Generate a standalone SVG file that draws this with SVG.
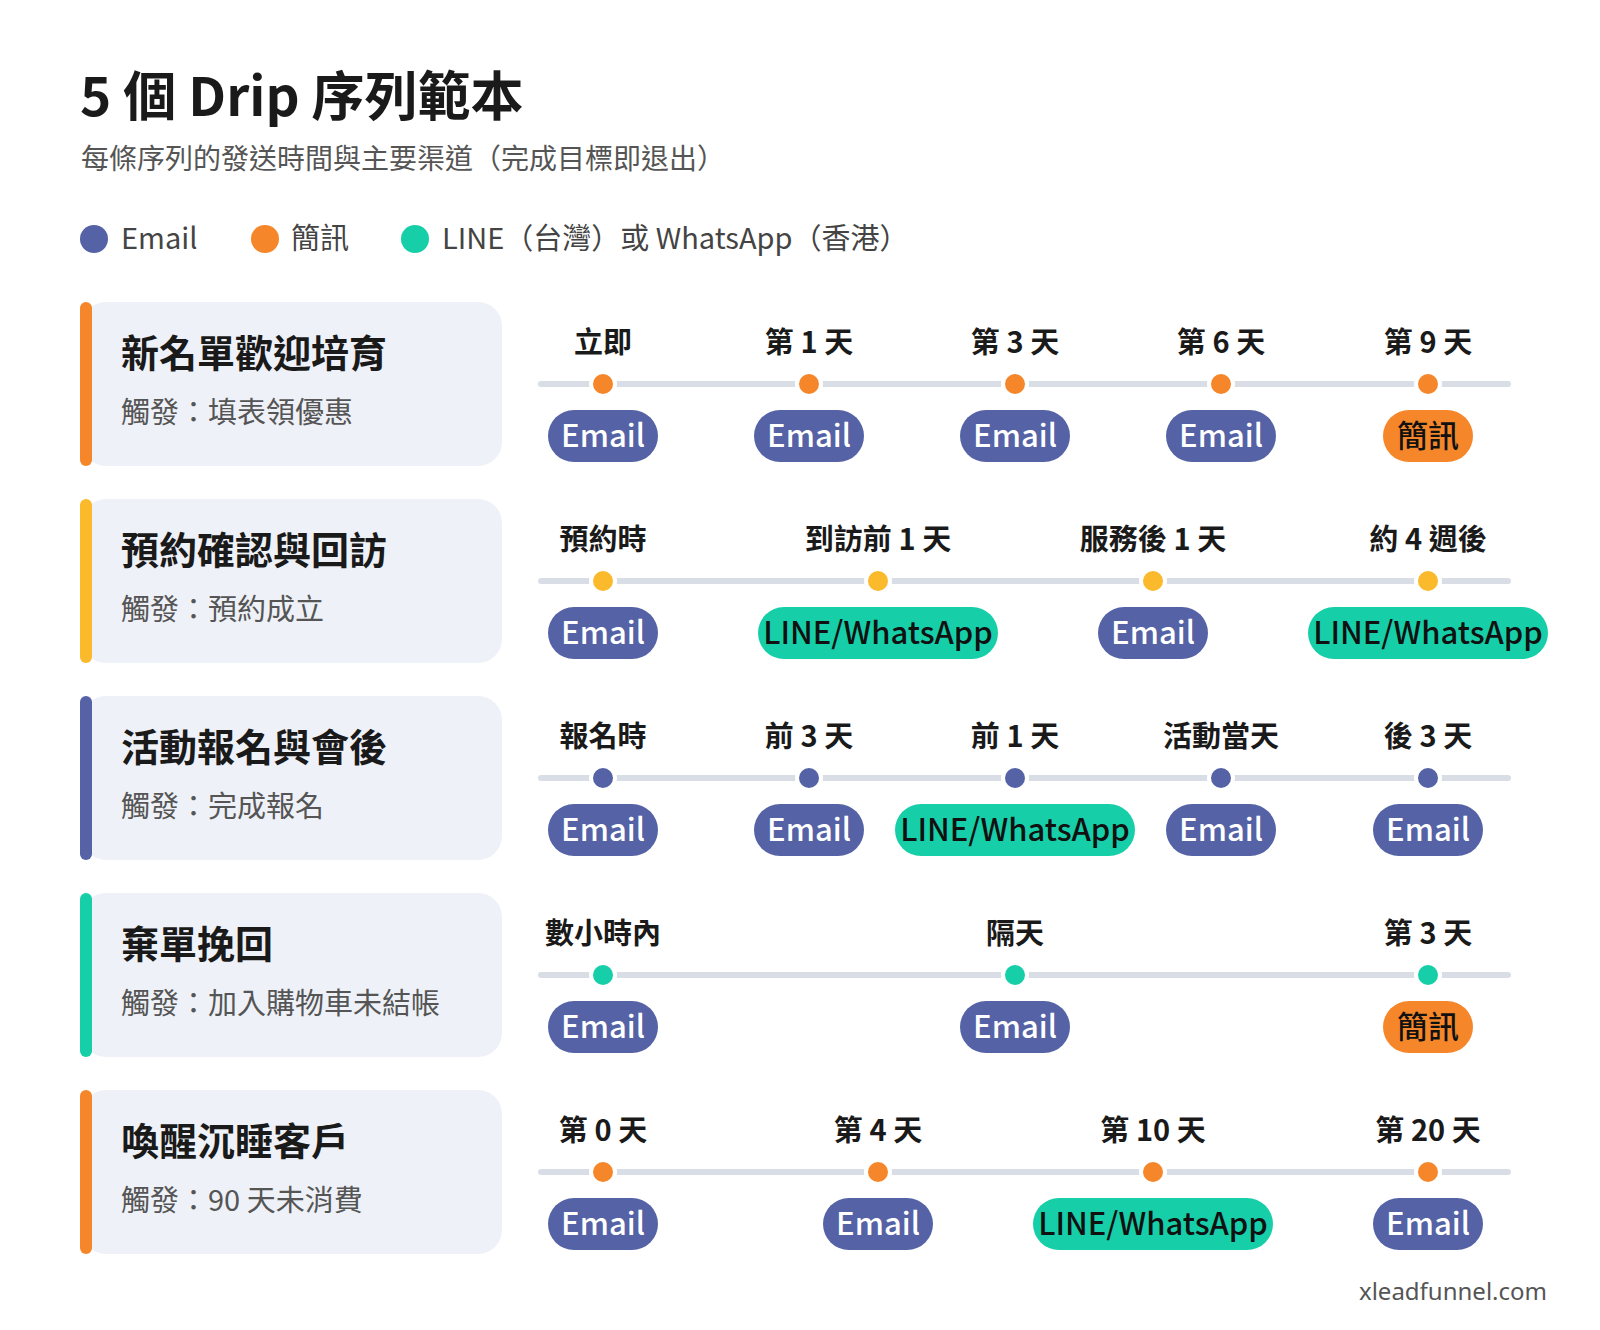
<svg xmlns="http://www.w3.org/2000/svg" width="1600" height="1330" viewBox="0 0 1600 1330">
<style>
text{font-family:"Noto Sans CJK TC","Noto Sans",sans-serif}
.t{font-size:53px;font-weight:700;fill:#1a1a1a}
.st{font-size:28px;fill:#555}
.lg{font-size:29px;fill:#444}
.card{fill:#eef1f7}
.ct{font-size:38px;font-weight:700;fill:#1a1a1a}
.cs{font-size:29px;fill:#555}
.lab{font-size:29px;font-weight:700;fill:#1a1a1a;text-anchor:middle}
.ln{stroke:#d9dde6;stroke-width:6;stroke-linecap:round}
.pt{font-size:31px;font-weight:500;text-anchor:middle}
.e{fill:#5563a6}.s{fill:#f5872a}.l{fill:#16cfa8}
.w{fill:#fff}.d{fill:#111}
</style>
<rect width="1600" height="1330" fill="#fff"/>
<text class="t" x="80" y="116">5 個 Drip 序列範本</text>
<text class="st" x="81" y="169">每條序列的發送時間與主要渠道（完成目標即退出）</text>
<g id="legend">
<circle cx="94" cy="239" r="14" class="e"/><text class="lg" x="121" y="249">Email</text>
<circle cx="265" cy="239" r="14" class="s"/><text class="lg" x="291" y="249">簡訊</text>
<circle cx="415" cy="239" r="14" class="l"/><text class="lg" x="442" y="249">LINE（台灣）或 WhatsApp（香港）</text>
</g>
<g id="connectors">
<line class="ln" x1="541" y1="384" x2="1508" y2="384"/>
<line class="ln" x1="541" y1="581" x2="1508" y2="581"/>
<line class="ln" x1="541" y1="778" x2="1508" y2="778"/>
<line class="ln" x1="541" y1="975" x2="1508" y2="975"/>
<line class="ln" x1="541" y1="1172" x2="1508" y2="1172"/>
</g>
<!-- Row 1 -->
<g id="row1">
<rect class="card" x="82" y="302" width="420" height="164" rx="24"/>
<rect x="80" y="302" width="12" height="164" rx="6" fill="#f5872a"/>
<text class="ct" x="121" y="367">新名單歡迎培育</text>
<text class="cs" x="121" y="423">觸發：填表領優惠</text>
<g fill="#f5872a" stroke="#fff" stroke-width="4">
<circle cx="603" cy="384" r="12"/><circle cx="809" cy="384" r="12"/><circle cx="1015" cy="384" r="12"/><circle cx="1221" cy="384" r="12"/><circle cx="1428" cy="384" r="12"/></g>
<text class="lab" x="603" y="353">立即</text><text class="lab" x="809" y="353">第 1 天</text><text class="lab" x="1015" y="353">第 3 天</text><text class="lab" x="1221" y="353">第 6 天</text><text class="lab" x="1428" y="353">第 9 天</text>
<rect class="e" x="548" y="410" width="110" height="52" rx="26"/><text class="pt w" x="603" y="447">Email</text>
<rect class="e" x="754" y="410" width="110" height="52" rx="26"/><text class="pt w" x="809" y="447">Email</text>
<rect class="e" x="960" y="410" width="110" height="52" rx="26"/><text class="pt w" x="1015" y="447">Email</text>
<rect class="e" x="1166" y="410" width="110" height="52" rx="26"/><text class="pt w" x="1221" y="447">Email</text>
<rect class="s" x="1383" y="410" width="90" height="52" rx="26"/><text class="pt d" x="1428" y="447">簡訊</text>
</g>
<!-- Row 2 -->
<g id="row2">
<rect class="card" x="82" y="499" width="420" height="164" rx="24"/>
<rect x="80" y="499" width="12" height="164" rx="6" fill="#fbb92c"/>
<text class="ct" x="121" y="564">預約確認與回訪</text>
<text class="cs" x="121" y="620">觸發：預約成立</text>
<g fill="#fbb92c" stroke="#fff" stroke-width="4">
<circle cx="603" cy="581" r="12"/><circle cx="878" cy="581" r="12"/><circle cx="1153" cy="581" r="12"/><circle cx="1428" cy="581" r="12"/></g>
<text class="lab" x="603" y="550">預約時</text><text class="lab" x="878" y="550">到訪前 1 天</text><text class="lab" x="1153" y="550">服務後 1 天</text><text class="lab" x="1428" y="550">約 4 週後</text>
<rect class="e" x="548" y="607" width="110" height="52" rx="26"/><text class="pt w" x="603" y="644">Email</text>
<rect class="l" x="758" y="607" width="240" height="52" rx="26"/><text class="pt d" x="878" y="644">LINE/WhatsApp</text>
<rect class="e" x="1098" y="607" width="110" height="52" rx="26"/><text class="pt w" x="1153" y="644">Email</text>
<rect class="l" x="1308" y="607" width="240" height="52" rx="26"/><text class="pt d" x="1428" y="644">LINE/WhatsApp</text>
</g>
<!-- Row 3 -->
<g id="row3">
<rect class="card" x="82" y="696" width="420" height="164" rx="24"/>
<rect x="80" y="696" width="12" height="164" rx="6" fill="#5563a6"/>
<text class="ct" x="121" y="761">活動報名與會後</text>
<text class="cs" x="121" y="817">觸發：完成報名</text>
<g fill="#5563a6" stroke="#fff" stroke-width="4">
<circle cx="603" cy="778" r="12"/><circle cx="809" cy="778" r="12"/><circle cx="1015" cy="778" r="12"/><circle cx="1221" cy="778" r="12"/><circle cx="1428" cy="778" r="12"/></g>
<text class="lab" x="603" y="747">報名時</text><text class="lab" x="809" y="747">前 3 天</text><text class="lab" x="1015" y="747">前 1 天</text><text class="lab" x="1221" y="747">活動當天</text><text class="lab" x="1428" y="747">後 3 天</text>
<rect class="e" x="548" y="804" width="110" height="52" rx="26"/><text class="pt w" x="603" y="841">Email</text>
<rect class="e" x="754" y="804" width="110" height="52" rx="26"/><text class="pt w" x="809" y="841">Email</text>
<rect class="l" x="895" y="804" width="240" height="52" rx="26"/><text class="pt d" x="1015" y="841">LINE/WhatsApp</text>
<rect class="e" x="1166" y="804" width="110" height="52" rx="26"/><text class="pt w" x="1221" y="841">Email</text>
<rect class="e" x="1373" y="804" width="110" height="52" rx="26"/><text class="pt w" x="1428" y="841">Email</text>
</g>
<!-- Row 4 -->
<g id="row4">
<rect class="card" x="82" y="893" width="420" height="164" rx="24"/>
<rect x="80" y="893" width="12" height="164" rx="6" fill="#16cfa8"/>
<text class="ct" x="121" y="958">棄單挽回</text>
<text class="cs" x="121" y="1014">觸發：加入購物車未結帳</text>
<g fill="#16cfa8" stroke="#fff" stroke-width="4">
<circle cx="603" cy="975" r="12"/><circle cx="1015" cy="975" r="12"/><circle cx="1428" cy="975" r="12"/></g>
<text class="lab" x="603" y="944">數小時內</text><text class="lab" x="1015" y="944">隔天</text><text class="lab" x="1428" y="944">第 3 天</text>
<rect class="e" x="548" y="1001" width="110" height="52" rx="26"/><text class="pt w" x="603" y="1038">Email</text>
<rect class="e" x="960" y="1001" width="110" height="52" rx="26"/><text class="pt w" x="1015" y="1038">Email</text>
<rect class="s" x="1383" y="1001" width="90" height="52" rx="26"/><text class="pt d" x="1428" y="1038">簡訊</text>
</g>
<!-- Row 5 -->
<g id="row5">
<rect class="card" x="82" y="1090" width="420" height="164" rx="24"/>
<rect x="80" y="1090" width="12" height="164" rx="6" fill="#f5872a"/>
<text class="ct" x="121" y="1155">喚醒沉睡客戶</text>
<text class="cs" x="121" y="1211">觸發：90 天未消費</text>
<g fill="#f5872a" stroke="#fff" stroke-width="4">
<circle cx="603" cy="1172" r="12"/><circle cx="878" cy="1172" r="12"/><circle cx="1153" cy="1172" r="12"/><circle cx="1428" cy="1172" r="12"/></g>
<text class="lab" x="603" y="1141">第 0 天</text><text class="lab" x="878" y="1141">第 4 天</text><text class="lab" x="1153" y="1141">第 10 天</text><text class="lab" x="1428" y="1141">第 20 天</text>
<rect class="e" x="548" y="1198" width="110" height="52" rx="26"/><text class="pt w" x="603" y="1235">Email</text>
<rect class="e" x="823" y="1198" width="110" height="52" rx="26"/><text class="pt w" x="878" y="1235">Email</text>
<rect class="l" x="1033" y="1198" width="240" height="52" rx="26"/><text class="pt d" x="1153" y="1235">LINE/WhatsApp</text>
<rect class="e" x="1373" y="1198" width="110" height="52" rx="26"/><text class="pt w" x="1428" y="1235">Email</text>
</g>
<text x="1547" y="1300" text-anchor="end" font-size="24" fill="#555" style="font-family:'Noto Sans',sans-serif">xleadfunnel.com</text>
</svg>
